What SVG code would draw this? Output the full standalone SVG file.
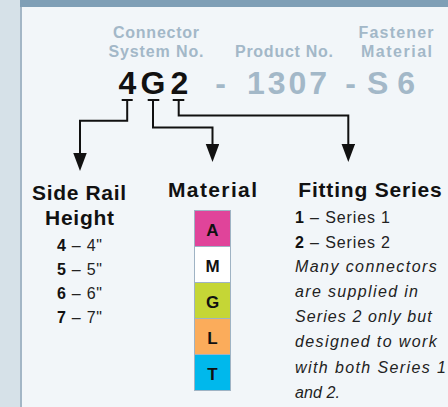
<svg xmlns="http://www.w3.org/2000/svg" width="448" height="407" viewBox="0 0 448 407">
<style>
.lbl{font-family:"Liberation Sans",Arial,sans-serif;font-weight:bold;font-size:16px;fill:#a3b8c8;text-anchor:middle}
.code{font-family:"Liberation Sans",Arial,sans-serif;font-weight:bold;font-size:32px;text-anchor:middle}
.title{font-family:"Liberation Sans",Arial,sans-serif;font-weight:bold;font-size:21px;fill:#111}
.body{font-family:"Liberation Sans",Arial,sans-serif;font-size:16px;fill:#222}
.it{font-style:italic}
.b{font-weight:bold;fill:#111}
.box{stroke:#9fb3c4;stroke-width:1}
.boxt{font-family:"Liberation Sans",Arial,sans-serif;font-weight:bold;font-size:17px;fill:#111;text-anchor:middle}
.conn{fill:none;stroke:#111;stroke-width:2}
</style>
<defs>
<marker id="arr" markerUnits="userSpaceOnUse" markerWidth="18" markerHeight="14" refX="0" refY="6.75" orient="auto">
<path d="M0,0 L18,6.75 L0,13.5 z" fill="#111"/>
</marker>
</defs>
<rect x="0" y="0" width="448" height="407" fill="#f2f6f9"/>
<rect x="0" y="0" width="20" height="407" fill="#d6e1e8"/>
<rect x="20" y="0" width="2" height="407" fill="#a3b6c6"/>
<rect x="20" y="0" width="428" height="7" fill="#7f9fb6"/>

<g id="header-labels">
<text class="lbl" x="156" y="38" textLength="86" lengthAdjust="spacing">Connector</text>
<text class="lbl" x="156" y="57" textLength="95" lengthAdjust="spacing">System No.</text>
<text class="lbl" x="284" y="57" textLength="98" lengthAdjust="spacing">Product No.</text>
<text class="lbl" x="396" y="38" textLength="75" lengthAdjust="spacing">Fastener</text>
<text class="lbl" x="396.5" y="57" textLength="71" lengthAdjust="spacing">Material</text>
</g>

<g id="code">
<text class="code" x="127.5" y="94" fill="#111">4</text>
<text class="code" x="153" y="94" fill="#111">G</text>
<text class="code" x="179.5" y="94" fill="#111">2</text>
<text class="code" x="220.5" y="94" fill="#a3b8c8">-</text>
<text class="code" x="287" y="94" fill="#a3b8c8" textLength="80" lengthAdjust="spacing">1307</text>
<text class="code" x="350.5" y="94" fill="#a3b8c8">-</text>
<text class="code" x="391" y="94" fill="#a3b8c8" textLength="48" lengthAdjust="spacing">S6</text>
</g>

<g id="connectors">
<path class="conn" d="M121.7 100 H132.7 M147.7 100 H159.3 M172.7 100 H184.3"/>
<path class="conn" d="M127.2 100 V120.7 H80 V153" marker-end="url(#arr)"/>
<path class="conn" d="M153 100 V127.5 H212.5 V144" marker-end="url(#arr)"/>
<path class="conn" d="M178.7 100 V115.5 H348.3 V144" marker-end="url(#arr)"/>
</g>

<g id="side-rail">
<text class="title" x="32" y="200" textLength="94" lengthAdjust="spacing">Side Rail</text>
<text class="title" x="45" y="225" textLength="69" lengthAdjust="spacing">Height</text>
<text class="body" x="57" y="251" textLength="45" lengthAdjust="spacing"><tspan class="b">4</tspan> – 4"</text>
<text class="body" x="57" y="275" textLength="45" lengthAdjust="spacing"><tspan class="b">5</tspan> – 5"</text>
<text class="body" x="57" y="299" textLength="45" lengthAdjust="spacing"><tspan class="b">6</tspan> – 6"</text>
<text class="body" x="57" y="323" textLength="45" lengthAdjust="spacing"><tspan class="b">7</tspan> – 7"</text>
</g>

<g id="material">
<text class="title" x="168" y="197" textLength="89" lengthAdjust="spacing">Material</text>
<rect class="box" x="194.5" y="210.5" width="36" height="36" fill="#e0449a"/>
<rect class="box" x="194.5" y="246.5" width="36" height="36" fill="#ffffff"/>
<rect class="box" x="194.5" y="282.5" width="36" height="36" fill="#c5d636"/>
<rect class="box" x="194.5" y="318.5" width="36" height="36" fill="#fbac5b"/>
<rect class="box" x="194.5" y="354.5" width="36" height="36" fill="#00b8ec"/>
<text class="boxt" x="212.5" y="236">A</text>
<text class="boxt" x="212.5" y="272">M</text>
<text class="boxt" x="212.5" y="308">G</text>
<text class="boxt" x="212.5" y="344">L</text>
<text class="boxt" x="212.5" y="380">T</text>
</g>

<g id="fitting-series">
<text class="title" x="298.3" y="197" textLength="143.4" lengthAdjust="spacing">Fitting Series</text>
<text class="body" x="295" y="223" textLength="95" lengthAdjust="spacing"><tspan class="b">1</tspan> – Series 1</text>
<text class="body" x="295" y="247.5" textLength="95" lengthAdjust="spacing"><tspan class="b">2</tspan> – Series 2</text>
<text class="body it" x="295" y="272" textLength="141.7" lengthAdjust="spacing">Many connectors</text>
<text class="body it" x="295" y="297" textLength="123" lengthAdjust="spacing">are supplied in</text>
<text class="body it" x="295" y="322" textLength="136.7" lengthAdjust="spacing">Series 2 only but</text>
<text class="body it" x="295" y="347" textLength="141.7" lengthAdjust="spacing">designed to work</text>
<text class="body it" x="295" y="373" textLength="151" lengthAdjust="spacing">with both Series 1</text>
<text class="body it" x="295" y="398" textLength="45" lengthAdjust="spacing">and 2.</text>
</g>
</svg>
